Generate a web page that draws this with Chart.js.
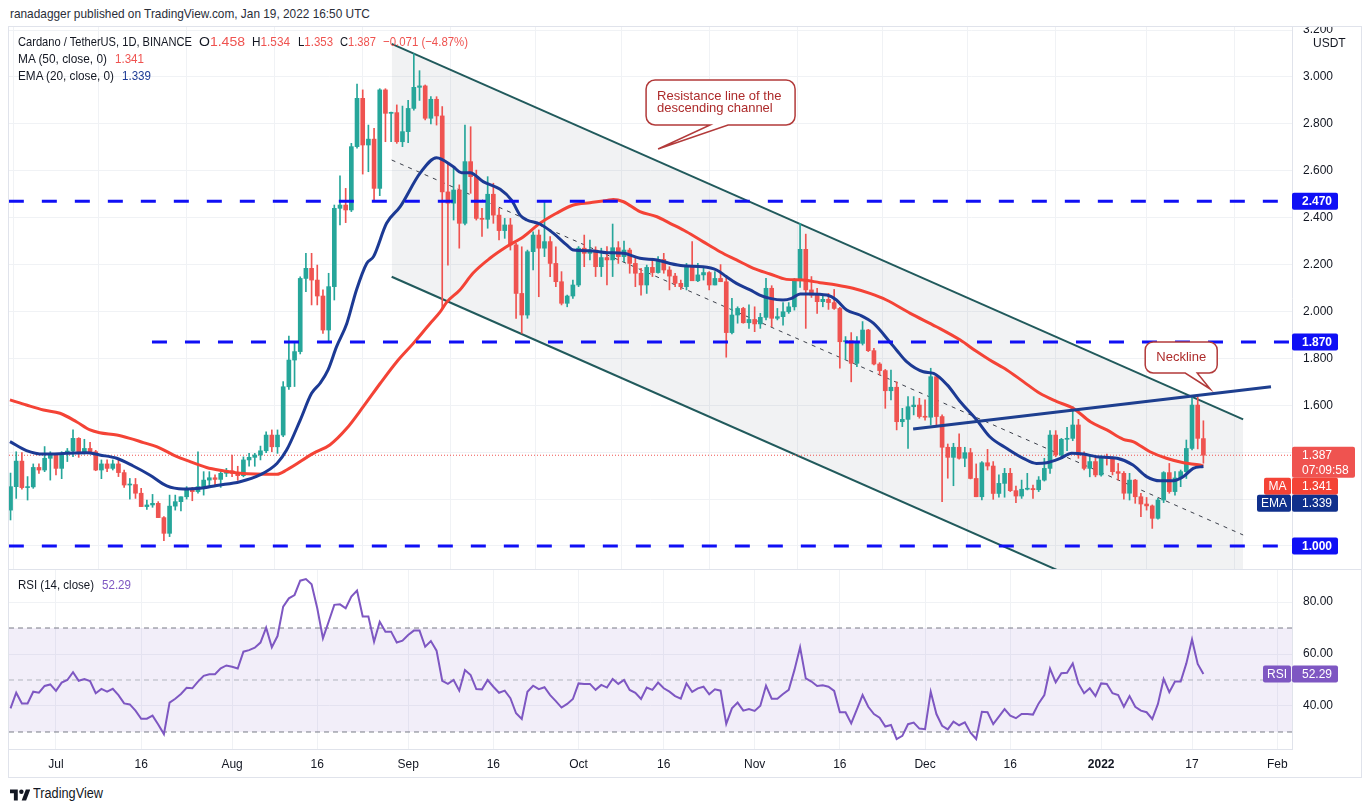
<!DOCTYPE html>
<html>
<head>
<meta charset="utf-8">
<title>Cardano / TetherUS 1D</title>
<script src="https://cdn.jsdelivr.net/npm/chart.js@4.4.1/dist/chart.umd.min.js"></script>
<style>
  body { margin: 0; background: #fff; width: 1370px; height: 812px; overflow: hidden;
         font-family: "Liberation Sans", Arial, sans-serif; color: #131722; }
  .abs { position: absolute; white-space: nowrap; transform-origin: 0 50%; }
  #frame { position: absolute; left: 8px; top: 26px; width: 1354px; height: 752px;
           border: 1px solid #e0e3eb; box-sizing: border-box; }
  canvas { position: absolute; }
  .sep { position: absolute; left: 9px; width: 1352px; height: 1px; background: #e0e3eb; }
  .lg { font-size: 13px; line-height: 16px; z-index: 5; }
  .red { color: #ef5350; }
</style>
</head>
<body>
<div class="abs fit" data-w="360" style="left:10px;top:6px;font-size:13px;line-height:16px;color:#2a2e39">ranadagger published on TradingView.com, Jan 19, 2022 16:50 UTC</div>
<div id="frame"></div>
<canvas id="price" width="1351" height="542" style="left:9px;top:27px;width:1351px;height:542px"></canvas>
<div class="sep" style="top:569px"></div>
<canvas id="rsi" width="1351" height="207" style="left:9px;top:570px;width:1351px;height:207px"></canvas>

<div class="abs lg fit" data-w="174" style="left:18px;top:34px">Cardano / TetherUS, 1D, BINANCE</div>
<div class="abs lg fit" data-w="46" style="left:199px;top:34px">O<span class="red">1.458</span></div>
<div class="abs lg fit" data-w="38" style="left:252px;top:34px">H<span class="red">1.534</span></div>
<div class="abs lg fit" data-w="35" style="left:298px;top:34px">L<span class="red">1.353</span></div>
<div class="abs lg fit" data-w="36" style="left:340px;top:34px">C<span class="red">1.387</span></div>
<div class="abs lg red fit" data-w="85" style="left:383px;top:34px">&minus;0.071 (&minus;4.87%)</div>
<div class="abs lg fit" data-w="89" style="left:18px;top:51px">MA (50, close, 0)</div>
<div class="abs lg red fit" data-w="29" style="left:115px;top:51px">1.341</div>
<div class="abs lg fit" data-w="96" style="left:18px;top:68px">EMA (20, close, 0)</div>
<div class="abs lg fit" data-w="29" style="left:122px;top:68px;color:#1c3a94">1.339</div>
<div class="abs lg fit" data-w="76" style="left:18px;top:577px">RSI (14, close)</div>
<div class="abs lg fit" data-w="29" style="left:102px;top:577px;color:#7e57c2">52.29</div>

<div class="abs" style="left:10px;top:787px">
  <svg width="20" height="12" viewBox="0 0 36 20"><path d="M14 20H7V7H0V0h14z M29 20h-8l7.5-20h8z" fill="#131722"/><circle cx="20.5" cy="4" r="4" fill="#131722"/></svg>
</div>
<div class="abs fit" data-w="70" style="left:33px;top:785px;font-size:14px;line-height:16px;color:#131722">TradingView</div>

<script>
// day 0 = Jul 1 2021; first candle is Jun 23 2021
const FIRST_DAY = -8;

const opens = [
  1.153,1.253,1.362,1.249,1.252,1.335,1.324,1.374,1.388,1.331,
  1.395,1.405,1.459,1.402,1.416,1.402,1.324,1.350,1.331,1.350,
  1.313,1.260,1.262,1.225,1.168,1.175,1.182,1.121,1.054,1.170,
  1.189,1.210,1.246,1.232,1.253,1.281,1.291,1.284,1.310,1.321,
  1.310,1.300,1.367,1.378,1.388,1.406,1.473,1.423,1.473,1.679,
  1.793,1.829,2.141,2.184,2.134,2.066,1.921,2.106,2.440,2.454,
  2.433,2.703,2.909,2.710,2.735,2.525,2.945,2.845,2.848,2.724,
  2.767,2.866,2.956,2.962,2.824,2.905,2.834,2.510,2.462,2.518,
  2.376,2.639,2.575,2.397,2.393,2.500,2.411,2.345,2.369,2.284,
  2.077,1.985,2.255,2.326,2.270,2.298,2.205,2.127,2.035,2.066,
  2.113,2.270,2.248,2.262,2.191,2.230,2.220,2.272,2.234,2.262,
  2.205,2.163,2.113,2.188,2.166,2.222,2.177,2.151,2.120,2.106,
  2.191,2.131,2.156,2.166,2.113,2.141,2.127,1.910,1.985,2.013,
  1.952,1.966,1.947,1.975,2.099,1.971,1.978,1.999,2.020,2.134,
  2.265,2.092,2.070,2.042,2.052,2.038,2.013,1.871,1.876,1.779,
  1.864,1.921,1.833,1.776,1.748,1.662,1.677,1.530,1.540,1.594,
  1.601,1.552,1.549,1.722,1.552,1.421,1.378,1.421,1.374,1.398,
  1.288,1.210,1.355,1.341,1.224,1.267,1.310,1.236,1.213,1.242,
  1.245,1.240,1.281,1.331,1.473,1.388,1.455,1.459,1.516,1.388,
  1.331,1.360,1.303,1.381,1.374,1.317,1.310,1.225,1.281,1.210,
  1.179,1.171,1.118,1.196,1.313,1.232,1.290,1.317,1.416,1.601,
  1.458
];
const highs = [
  1.311,1.402,1.398,1.296,1.350,1.350,1.424,1.402,1.395,1.402,
  1.416,1.495,1.462,1.455,1.442,1.408,1.367,1.367,1.367,1.374,
  1.324,1.288,1.288,1.246,1.196,1.220,1.189,1.125,1.217,1.217,
  1.210,1.253,1.250,1.402,1.317,1.317,1.303,1.317,1.331,1.388,
  1.340,1.380,1.395,1.395,1.426,1.487,1.495,1.495,1.701,1.895,
  1.871,2.148,2.248,2.248,2.198,2.092,2.163,2.454,2.579,2.525,
  2.717,2.970,2.945,2.795,2.781,2.950,2.950,2.850,2.881,2.876,
  2.900,3.100,3.027,2.966,2.916,2.916,2.874,2.632,2.618,2.540,
  2.795,2.788,2.603,2.440,2.575,2.547,2.440,2.397,2.397,2.291,
  2.276,2.262,2.340,2.348,2.468,2.320,2.276,2.170,2.070,2.134,
  2.277,2.326,2.305,2.276,2.270,2.277,2.373,2.298,2.300,2.270,
  2.234,2.184,2.198,2.227,2.234,2.248,2.191,2.163,2.134,2.205,
  2.298,2.205,2.184,2.170,2.170,2.200,2.149,2.056,2.020,2.018,
  2.028,2.020,1.992,2.141,2.110,2.013,2.038,2.038,2.141,2.376,
  2.330,2.149,2.099,2.070,2.077,2.094,2.018,1.893,1.910,1.893,
  1.957,1.924,1.843,1.782,1.753,1.750,1.700,1.587,1.637,1.637,
  1.630,1.623,1.758,1.729,1.559,1.435,1.438,1.478,1.421,1.416,
  1.350,1.360,1.412,1.360,1.303,1.331,1.331,1.256,1.281,1.310,
  1.260,1.296,1.374,1.492,1.492,1.459,1.506,1.594,1.540,1.402,
  1.388,1.381,1.384,1.392,1.381,1.352,1.317,1.310,1.284,1.225,
  1.207,1.175,1.203,1.317,1.352,1.317,1.324,1.452,1.637,1.637,
  1.534
];
const lows = [
  1.111,1.203,1.242,1.196,1.246,1.310,1.317,1.281,1.303,1.287,
  1.360,1.381,1.378,1.392,1.398,1.321,1.287,1.317,1.324,1.296,
  1.250,1.200,1.203,1.168,1.156,1.165,1.121,1.023,1.040,1.153,
  1.150,1.200,1.193,1.225,1.217,1.256,1.256,1.250,1.296,1.296,
  1.280,1.295,1.340,1.340,1.367,1.398,1.402,1.395,1.466,1.668,
  1.680,1.819,2.085,2.028,2.028,1.907,1.871,2.049,2.369,2.379,
  2.426,2.696,2.586,2.596,2.475,2.494,2.724,2.724,2.717,2.703,
  2.720,2.859,2.900,2.817,2.800,2.795,2.013,2.198,2.390,2.270,
  2.369,2.504,2.390,2.320,2.355,2.376,2.305,2.312,2.262,1.971,
  1.907,1.971,2.177,2.063,2.234,2.149,2.106,2.028,2.020,2.056,
  2.106,2.191,2.220,2.149,2.149,2.113,2.149,2.205,2.212,2.163,
  2.106,2.070,2.077,2.149,2.163,2.163,2.092,2.106,2.094,2.092,
  2.131,2.127,2.134,2.092,2.113,2.127,1.805,1.904,1.950,1.950,
  1.928,1.914,1.928,1.964,1.935,1.964,1.942,1.992,2.006,2.103,
  1.928,2.060,1.992,2.020,2.009,2.009,1.758,1.796,1.700,1.765,
  1.857,1.829,1.772,1.729,1.587,1.623,1.495,1.509,1.416,1.559,
  1.545,1.537,1.516,1.509,1.189,1.289,1.257,1.370,1.338,1.286,
  1.210,1.196,1.324,1.199,1.208,1.208,1.232,1.185,1.203,1.239,
  1.203,1.232,1.277,1.310,1.381,1.381,1.406,1.449,1.374,1.324,
  1.295,1.295,1.298,1.345,1.303,1.281,1.200,1.196,1.182,1.125,
  1.153,1.075,1.114,1.185,1.225,1.217,1.253,1.288,1.410,1.414,
  1.353
];
const closes = [
  1.253,1.362,1.249,1.252,1.335,1.324,1.374,1.388,1.331,1.395,
  1.405,1.459,1.402,1.416,1.402,1.324,1.350,1.331,1.350,1.313,
  1.260,1.262,1.225,1.168,1.175,1.182,1.121,1.054,1.170,1.189,
  1.210,1.246,1.232,1.253,1.281,1.291,1.284,1.310,1.321,1.310,
  1.300,1.367,1.378,1.388,1.406,1.473,1.423,1.473,1.679,1.793,
  1.829,2.141,2.184,2.134,2.066,1.921,2.106,2.440,2.454,2.433,
  2.703,2.909,2.710,2.735,2.525,2.945,2.845,2.848,2.724,2.767,
  2.866,2.956,2.962,2.824,2.905,2.834,2.510,2.462,2.518,2.376,
  2.639,2.575,2.397,2.393,2.500,2.411,2.345,2.369,2.284,2.077,
  1.985,2.255,2.326,2.270,2.298,2.205,2.127,2.035,2.066,2.113,
  2.270,2.248,2.262,2.191,2.230,2.220,2.272,2.234,2.262,2.205,
  2.163,2.113,2.188,2.166,2.222,2.177,2.151,2.120,2.106,2.191,
  2.131,2.156,2.166,2.113,2.141,2.127,1.910,1.985,2.013,1.952,
  1.966,1.947,1.975,2.099,1.971,1.978,1.999,2.020,2.134,2.265,
  2.092,2.070,2.042,2.052,2.038,2.013,1.871,1.876,1.779,1.864,
  1.921,1.833,1.776,1.748,1.662,1.677,1.530,1.540,1.594,1.601,
  1.552,1.549,1.722,1.552,1.421,1.378,1.421,1.374,1.398,1.288,
  1.210,1.355,1.341,1.224,1.267,1.310,1.236,1.213,1.242,1.245,
  1.240,1.281,1.331,1.473,1.388,1.455,1.459,1.516,1.388,1.331,
  1.360,1.303,1.381,1.374,1.317,1.310,1.225,1.281,1.210,1.179,
  1.171,1.118,1.196,1.313,1.232,1.290,1.317,1.416,1.601,1.459,
  1.387
];

const rsiValues = [
  39.1,45.1,41.0,41.0,45.5,45.1,47.7,48.3,45.8,49.0,
  50.0,53.0,49.7,50.4,49.6,44.9,46.6,45.5,46.6,44.2,
  41.0,40.6,38.2,35.1,35.1,36.3,32.9,29.2,41.3,42.8,
  44.6,47.0,46.8,49.4,51.6,52.2,52.2,54.5,55.6,55.1,
  54.4,60.9,61.5,62.4,64.4,70.1,62.6,66.9,78.2,81.4,
  82.7,88.2,88.8,86.8,77.6,66.0,72.4,78.9,79.1,77.6,
  82.1,84.4,74.4,74.4,64.7,72.4,68.6,68.6,64.4,65.1,
  67.3,69.0,69.0,62.8,65.0,61.3,49.7,48.5,50.0,45.9,
  53.8,51.9,46.5,46.4,50.0,47.4,45.1,45.9,43.0,37.2,
  35.0,45.5,47.8,46.5,47.2,44.2,41.9,39.4,40.8,42.7,
  48.7,48.5,48.5,46.2,48.1,47.1,50.4,48.5,50.0,46.2,
  45.1,42.7,47.1,46.2,49.0,46.8,45.5,43.8,42.8,48.7,
  45.4,46.8,47.4,44.5,46.4,45.9,33.1,39.1,41.3,38.2,
  38.8,38.1,40.1,47.8,42.8,42.8,44.6,46.2,53.8,62.6,
  50.6,49.4,47.7,48.0,47.4,45.8,37.6,37.6,33.3,38.7,
  44.2,39.7,36.9,35.5,32.1,32.7,27.3,28.5,33.0,33.6,
  31.3,31.1,45.5,36.9,32.4,31.0,34.0,32.6,33.7,29.7,
  27.3,37.8,37.6,33.0,35.9,38.8,36.3,35.3,36.9,36.9,
  36.7,41.0,44.2,54.4,49.1,52.6,52.8,56.4,48.7,44.9,
  46.8,43.8,48.7,48.5,44.9,44.2,39.7,43.8,39.7,38.2,
  37.6,35.0,40.8,50.4,45.3,49.4,49.4,56.4,65.6,56.2,
  52.29
];

// moving averages as [day, price]
const ma50Points = [
  [-8.1,1.623],[-5.2,1.601],[-2.2,1.580],[0.7,1.566],[3.6,1.530],[6.0,1.495],[7.7,1.483],
  [10.7,1.473],[13.0,1.459],[15.4,1.441],[17.7,1.424],[20.7,1.388],[23.6,1.360],[26.5,1.335],
  [29.4,1.321],[32.4,1.310],[38.9,1.306],[40.6,1.324],[45.3,1.395],[48.2,1.431],[51.2,1.502],
  [54.1,1.594],[57.1,1.694],[60.0,1.786],[62.9,1.864],[65.9,1.950],[67.6,1.997],[68.8,2.040],
  [71.1,2.092],[73.4,2.163],[76.4,2.227],[79.3,2.276],[82.3,2.319],[85.2,2.376],[88.1,2.419],
  [91.1,2.454],[94.0,2.464],[97.0,2.473],[98.1,2.478],[99.9,2.468],[102.8,2.426],[105.8,2.404],
  [108.1,2.376],[111.0,2.340],[113.9,2.298],[116.9,2.255],[119.8,2.220],[122.8,2.184],
  [125.7,2.160],[128.6,2.137],[131.5,2.134],[134.5,2.123],[137.4,2.113],[140.3,2.099],
  [143.3,2.077],[146.2,2.049],[150.4,1.992],[155.0,1.935],[159.2,1.878],[162.1,1.829],
  [164.4,1.793],[167.4,1.751],[170.3,1.701],[173.2,1.651],[176.2,1.616],[179.1,1.587],
  [182.1,1.530],[185.0,1.495],[187.9,1.455],[189.6,1.445],[192.6,1.402],[195.5,1.374],
  [198.5,1.355],[201.4,1.345],[202.0,1.341]
];
const ema20Points = [
  [-8.1,1.445],[-5.2,1.407],[-2.2,1.392],[1.9,1.395],[5.4,1.398],[7.7,1.388],[10.7,1.374],
  [13.6,1.341],[16.5,1.303],[19.5,1.256],[22.4,1.243],[25.4,1.246],[28.3,1.258],[32.4,1.274],
  [35.9,1.303],[38.9,1.352],[40.6,1.409],[43.0,1.537],[45.0,1.651],[46.5,1.694],[47.9,1.751],
  [49.4,1.850],[51.2,1.949],[52.9,2.092],[54.7,2.205],[55.9,2.234],[58.2,2.376],[60.6,2.447],
  [64.1,2.590],[67.0,2.656],[69.9,2.618],[71.4,2.592],[72.9,2.592],[75.2,2.554],[78.2,2.521],
  [80.2,2.475],[81.7,2.411],[82.9,2.390],[85.2,2.373],[87.6,2.333],[89.9,2.284],[91.1,2.262],
  [94.0,2.259],[97.0,2.251],[99.9,2.248],[102.8,2.227],[105.8,2.220],[108.1,2.205],
  [110.4,2.195],[113.9,2.191],[116.3,2.177],[118.0,2.149],[119.8,2.120],[122.2,2.092],
  [123.9,2.070],[125.7,2.056],[128.0,2.049],[129.5,2.056],[131.0,2.075],[132.7,2.075],
  [135.7,2.070],[137.4,2.049],[139.2,2.006],[141.5,1.985],[143.9,1.950],[146.8,1.870],
  [148.0,1.835],[149.8,1.785],[152.7,1.743],[154.5,1.736],[156.9,1.687],[159.2,1.615],
  [162.1,1.537],[164.4,1.466],[167.4,1.416],[170.3,1.374],[172.6,1.352],[174.4,1.355],
  [176.8,1.374],[178.8,1.395],[180.9,1.392],[183.2,1.381],[186.8,1.374],[189.6,1.345],
  [192.0,1.296],[194.4,1.278],[196.7,1.278],[198.5,1.296],[200.2,1.331],[202.0,1.339]
];

// drawings, as [day, price]
const levelPrices = [2.47, 1.87, 1.0];
const levelStartDays = [-8.3, 16.9, -8.3];
const channelUpper = [[59.1, 3.141], [209.0, 1.540]];
const channelLower = [[59.1, 2.148], [209.0, 0.548]];
const channelMid = [[59.1, 2.646], [209.0, 1.047]];
const necklinePts = [[150.9, 1.499], [213.9, 1.679]];

const priceTicks = [1.0, 1.2, 1.4, 1.6, 1.8, 2.0, 2.2, 2.4, 2.6, 2.8, 3.0, 3.2];
const hiddenPriceTicks = [1.0, 1.2, 1.4];
const rsiTicks = [40, 60, 80];
const rsiBands = [70, 50, 30];
const timeTickDays = [0, 15, 31, 46, 62, 77, 92, 107, 123, 138, 153, 168, 184, 200, 215];
const timeTickLabels = ['Jul', '16', 'Aug', '16', 'Sep', '16', 'Oct', '16', 'Nov', '16', 'Dec', '16', '2022', '17', 'Feb'];

const X_MIN = -8.27, X_MAX = 217.6;
const PRICE_MIN = 0.9019, PRICE_MAX = 3.2132;
const RSI_MIN = 23.46, RSI_MAX = 92.31;

const FONT = '"Liberation Sans", Arial, sans-serif';
const UP = '#26a69a', DOWN = '#ef5350';
const MA_COLOR = '#f44336', EMA_COLOR = '#1c3a94', LEVEL_COLOR = '#0f0ff5', RSI_COLOR = '#7e57c2';
const GRID = '#f0f2f5';

// squeeze the html labels to the widths they have in the picture
document.querySelectorAll('.fit').forEach(el => {
  const w = el.getBoundingClientRect().width;
  if (w > 0) el.style.transform = 'scaleX(' + (+el.dataset.w / w).toFixed(3) + ')';
});

const candleDays = opens.map((_, i) => FIRST_DAY + i);
const candleColors = opens.map((o, i) => closes[i] >= o ? UP : DOWN);
const lastClose = closes[closes.length - 1];
const pts = arr => arr.map(([x, y]) => ({ x, y }));

function noPad(s) { s.paddingTop = 0; s.paddingBottom = 0; s.paddingLeft = 0; s.paddingRight = 0; }

function timeAxis(showLabels) {
  return {
    type: 'linear', min: X_MIN, max: X_MAX, offset: false,
    afterBuildTicks: s => { s.ticks = timeTickDays.map(v => ({ value: v })); },
    ticks: {
      display: showLabels, autoSkip: false, maxRotation: 0, padding: 8, color: '#131722',
      font: c => ({ family: FONT, size: 12, weight: timeTickLabels[c.index] === '2022' ? 'bold' : 'normal' }),
      callback: v => { const k = timeTickDays.indexOf(v); return k < 0 ? '' : timeTickLabels[k]; }
    },
    grid: { color: GRID, drawTicks: false },
    border: { display: showLabels, color: '#e0e3eb' },
    afterFit: s => { s.height = showLabels ? 28 : 0; noPad(s); }
  };
}

// ---------- price pane ----------
function roundBox(ctx, x, y, w, h, fill) {
  ctx.fillStyle = fill;
  ctx.beginPath();
  ctx.roundRect ? ctx.roundRect(x, y, w, h, 2) : ctx.rect(x, y, w, h);
  ctx.fill();
}

function drawCallout(ctx, tip, box, b1, b2, r) {
  const l = box.l, t = box.t, w = box.w, h = box.h;
  ctx.beginPath();
  ctx.moveTo(l + r, t);
  ctx.lineTo(l + w - r, t); ctx.arcTo(l + w, t, l + w, t + r, r);
  ctx.lineTo(l + w, t + h - r); ctx.arcTo(l + w, t + h, l + w - r, t + h, r);
  ctx.lineTo(b2, t + h); ctx.lineTo(tip.x, tip.y); ctx.lineTo(b1, t + h);
  ctx.lineTo(l + r, t + h); ctx.arcTo(l, t + h, l, t + h - r, r);
  ctx.lineTo(l, t + r); ctx.arcTo(l, t, l + r, t, r);
  ctx.closePath();
  ctx.fillStyle = '#ffffff';
  ctx.fill();
  ctx.lineWidth = 1.5;
  ctx.strokeStyle = '#b23a3a';
  ctx.stroke();
}

const priceOverlay = {
  id: 'priceOverlay',
  afterDatasetsDraw(chart) {
    const { ctx, scales: { x, y } } = chart;
    ctx.save();
    // resistance callout
    let tip = { x: x.getPixelForValue(106.0), y: y.getPixelForValue(2.693) };
    drawCallout(ctx, tip, { l: tip.x - 12, t: tip.y - 69, w: 149, h: 45 }, tip.x + 52, tip.x + 70, 9);
    ctx.fillStyle = '#ad2b2b';
    ctx.font = '13px ' + FONT;
    ctx.textAlign = 'left'; ctx.textBaseline = 'middle';
    ctx.fillText('Resistance line of the', tip.x - 1, tip.y - 53);
    ctx.fillText('descending channel', tip.x - 1, tip.y - 41);
    // neckline callout
    tip = { x: x.getPixelForValue(203.2), y: y.getPixelForValue(1.6695) };
    drawCallout(ctx, tip, { l: tip.x - 65, t: tip.y - 47, w: 72, h: 31 }, tip.x - 25, tip.x - 13, 8);
    ctx.fillStyle = '#ad2b2b';
    ctx.textAlign = 'center';
    ctx.fillText('Neckline', tip.x - 29, tip.y - 32);
    ctx.restore();
  },
  afterDraw(chart) {
    const { ctx, chartArea, scales: { y } } = chart;
    const ax = chartArea.right;
    ctx.save();
    ctx.textBaseline = 'middle';
    ctx.font = '12px ' + FONT;
    ctx.fillStyle = '#131722';
    ctx.textAlign = 'left';
    ctx.fillText('USDT', ax + 21, 17);
    // level boxes
    levelPrices.forEach(v => {
      const py = y.getPixelForValue(v);
      roundBox(ctx, ax, py - 8.5, 46, 17, LEVEL_COLOR);
      ctx.fillStyle = '#fff';
      ctx.font = 'bold 12px ' + FONT;
      ctx.fillText(v.toFixed(3), ax + 10, py + 0.5);
    });
    // last price box
    const cy = y.getPixelForValue(lastClose);
    roundBox(ctx, ax, cy - 8.5, 63, 31, '#ef5350');
    ctx.fillStyle = '#fff';
    ctx.font = '12px ' + FONT;
    ctx.fillText(lastClose.toFixed(3), ax + 10, cy + 0.5);
    ctx.fillText('07:09:58', ax + 10, cy + 15);
    // MA / EMA tags stacked below
    const maTop = cy + 22.5;
    roundBox(ctx, ax - 28, maTop, 27, 17, MA_COLOR);
    roundBox(ctx, ax, maTop, 46, 17, MA_COLOR);
    const emaTop = maTop + 17;
    roundBox(ctx, ax - 35, emaTop, 34, 17, '#10308c');
    roundBox(ctx, ax, emaTop, 46, 17, '#10308c');
    ctx.fillStyle = '#fff';
    ctx.textAlign = 'center';
    ctx.fillText('MA', ax - 14.5, maTop + 9);
    ctx.fillText('EMA', ax - 18, emaTop + 9);
    ctx.textAlign = 'left';
    ctx.fillText('1.341', ax + 10, maTop + 9);
    ctx.fillText('1.339', ax + 10, emaTop + 9);
    ctx.restore();
  }
};

const priceDatasets = [
  { type: 'line', data: pts(channelUpper), borderColor: '#215a5c', borderWidth: 2, pointRadius: 0,
    fill: '+1', backgroundColor: 'rgba(120,128,140,0.10)', order: 30 },
  { type: 'line', data: pts(channelLower), borderColor: '#215a5c', borderWidth: 2, pointRadius: 0, fill: false, order: 29 },
  { type: 'line', data: pts(channelMid), borderColor: '#3b3f4a', borderWidth: 1, borderDash: [4, 5], pointRadius: 0, fill: false, order: 28 },
  { type: 'line', data: [{ x: X_MIN, y: lastClose }, { x: X_MAX, y: lastClose }], borderColor: '#ef5350',
    borderWidth: 1, borderDash: [1, 2], pointRadius: 0, fill: false, order: 27 },
  { type: 'bar', data: candleDays.map((d, i) => ({ x: d, y: [lows[i], highs[i]] })),
    backgroundColor: candleColors, barThickness: 1, grouped: false, order: 20 },
  { type: 'bar', data: candleDays.map((d, i) => ({ x: d, y: [opens[i], closes[i]] })),
    backgroundColor: candleColors, barThickness: 4, minBarLength: 1, grouped: false, order: 19 },
  { type: 'line', data: pts(ma50Points), borderColor: MA_COLOR, borderWidth: 3, pointRadius: 0,
    cubicInterpolationMode: 'monotone', fill: false, order: 10 },
  { type: 'line', data: pts(ema20Points), borderColor: EMA_COLOR, borderWidth: 3, pointRadius: 0,
    cubicInterpolationMode: 'monotone', fill: false, order: 9 },
  { type: 'line', data: pts(necklinePts), borderColor: '#1e3f8f', borderWidth: 3, pointRadius: 0, fill: false, order: 5 }
];
levelPrices.forEach((v, i) => {
  priceDatasets.push({ type: 'line', data: [{ x: levelStartDays[i], y: v }, { x: X_MAX, y: v }],
    borderColor: LEVEL_COLOR, borderWidth: 3, borderDash: [15, 18], pointRadius: 0, fill: false, order: 4 });
});

new Chart(document.getElementById('price'), {
  type: 'bar',
  data: { datasets: priceDatasets },
  options: {
    responsive: false, animation: false, events: [],
    layout: { padding: 0 },
    plugins: { legend: { display: false }, tooltip: { enabled: false } },
    scales: {
      x: timeAxis(false),
      y: {
        type: 'linear', position: 'right', min: PRICE_MIN, max: PRICE_MAX,
        afterBuildTicks: s => { s.ticks = priceTicks.map(v => ({ value: v })); },
        ticks: { autoSkip: false, padding: 11, color: '#131722', font: { family: FONT, size: 12 },
          callback: v => hiddenPriceTicks.some(h => Math.abs(h - v) < 1e-6) ? '' : v.toFixed(3) },
        grid: { color: GRID, drawTicks: false },
        border: { display: true, color: '#e0e3eb' },
        afterFit: s => { s.width = 68; noPad(s); }
      }
    }
  },
  plugins: [priceOverlay]
});

// ---------- RSI pane ----------
const rsiOverlay = {
  id: 'rsiOverlay',
  afterDraw(chart) {
    const { ctx, chartArea, scales: { y } } = chart;
    const ax = chartArea.right;
    const last = rsiValues[rsiValues.length - 1];
    const py = y.getPixelForValue(last);
    ctx.save();
    roundBox(ctx, ax - 29, py - 8.5, 28, 17, RSI_COLOR);
    roundBox(ctx, ax, py - 8.5, 46, 17, RSI_COLOR);
    ctx.fillStyle = '#fff';
    ctx.font = '12px ' + FONT;
    ctx.textBaseline = 'middle';
    ctx.textAlign = 'center';
    ctx.fillText('RSI', ax - 15, py + 0.5);
    ctx.textAlign = 'left';
    ctx.fillText(last.toFixed(2), ax + 10, py + 0.5);
    ctx.restore();
  }
};

const rsiDatasets = [
  { type: 'line', data: [{ x: X_MIN, y: rsiBands[0] }, { x: X_MAX, y: rsiBands[0] }], borderColor: '#787b86',
    borderWidth: 1, borderDash: [5, 4], pointRadius: 0, fill: '+1', backgroundColor: 'rgba(126,87,194,0.10)', order: 10 },
  { type: 'line', data: [{ x: X_MIN, y: rsiBands[2] }, { x: X_MAX, y: rsiBands[2] }], borderColor: '#787b86',
    borderWidth: 1, borderDash: [5, 4], pointRadius: 0, fill: false, order: 9 },
  { type: 'line', data: [{ x: X_MIN, y: rsiBands[1] }, { x: X_MAX, y: rsiBands[1] }], borderColor: '#b2b5be',
    borderWidth: 1, borderDash: [5, 4], pointRadius: 0, fill: false, order: 8 },
  { type: 'line', data: candleDays.map((d, i) => ({ x: d, y: rsiValues[i] })), borderColor: RSI_COLOR,
    borderWidth: 2, pointRadius: 0, fill: false, order: 1 }
];

new Chart(document.getElementById('rsi'), {
  type: 'line',
  data: { datasets: rsiDatasets },
  options: {
    responsive: false, animation: false, events: [],
    layout: { padding: 0 },
    plugins: { legend: { display: false }, tooltip: { enabled: false } },
    scales: {
      x: timeAxis(true),
      y: {
        type: 'linear', position: 'right', min: RSI_MIN, max: RSI_MAX,
        afterBuildTicks: s => { s.ticks = rsiTicks.map(v => ({ value: v })); },
        ticks: { autoSkip: false, padding: 11, color: '#131722', font: { family: FONT, size: 12 },
          callback: v => v.toFixed(2) },
        grid: { color: GRID, drawTicks: false },
        border: { display: true, color: '#e0e3eb' },
        afterFit: s => { s.width = 68; noPad(s); }
      }
    }
  },
  plugins: [rsiOverlay]
});
</script>
</body>
</html>
